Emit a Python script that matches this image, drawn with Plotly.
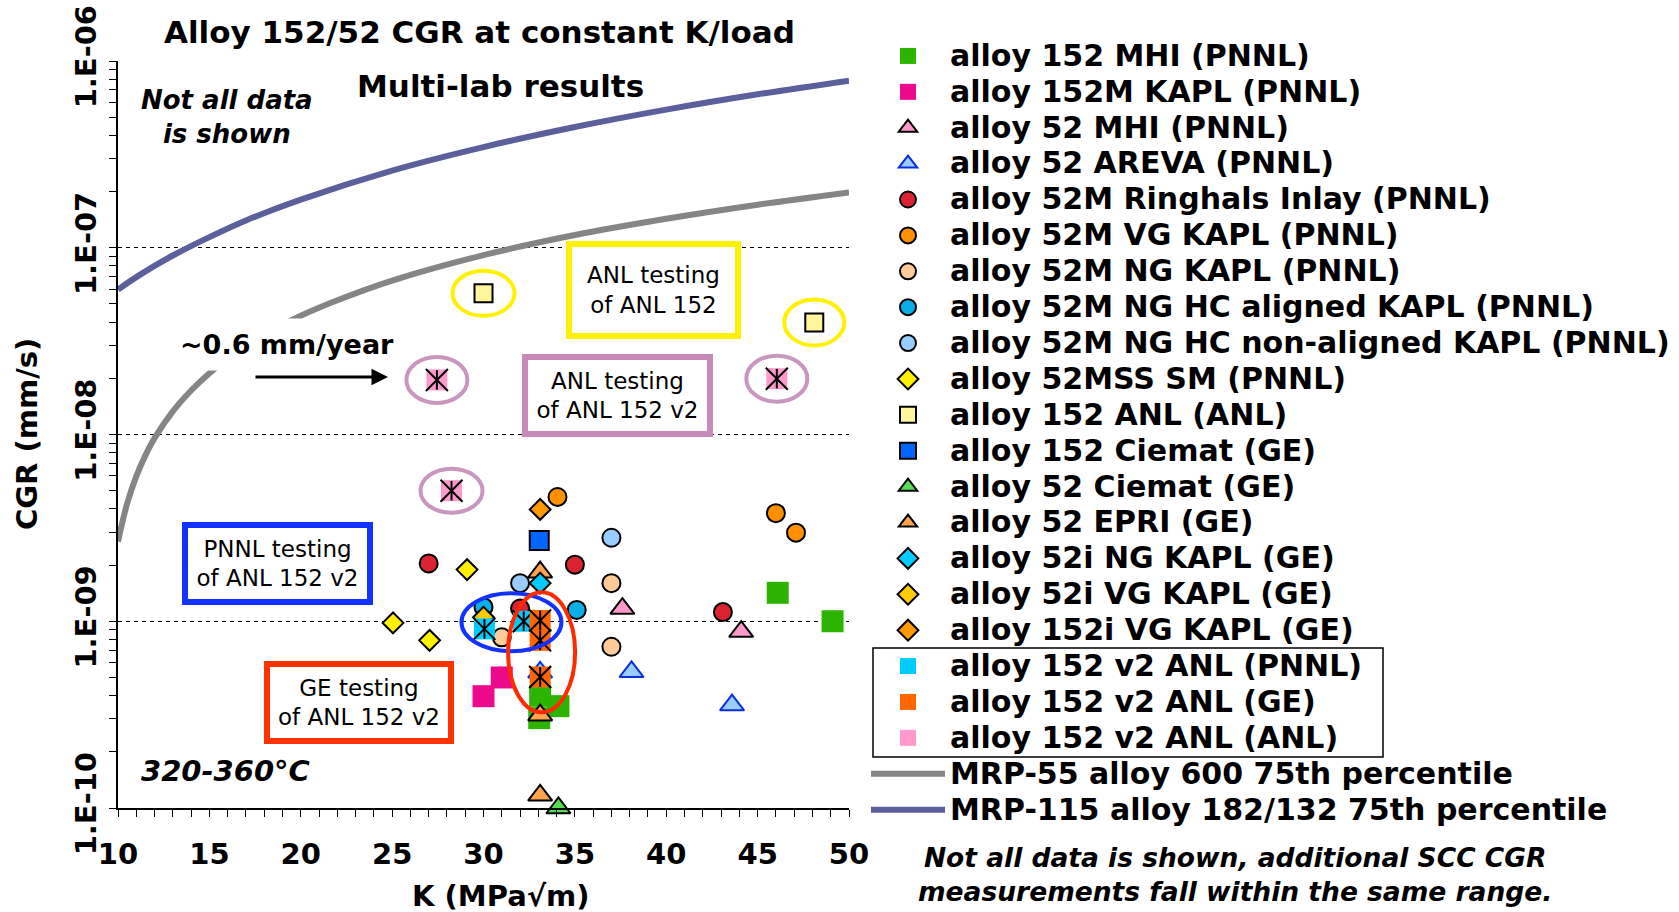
import plotly.graph_objects as go

FONT = "DejaVu Sans"

# --------------------------------------------------
# Data: K (MPa*sqrt(m)), CGR (mm/s)
# --------------------------------------------------
a152_mhi_k = [46.1, 49.1, 33.1, 34.1, 33.05]
a152_mhi_cgr = [1.42e-9, 1.0e-9, 3.99e-10, 3.51e-10, 3.03e-10]

a152m_kapl_k = [30.0, 31.0]
a152m_kapl_cgr = [3.97e-10, 5.0e-10]

a52_mhi_k = [37.6, 44.1]
a52_mhi_cgr = [1.17e-9, 8.8e-10]

a52_areva_k = [38.1, 43.6, 33.1]
a52_areva_cgr = [5.36e-10, 3.56e-10, 5.33e-10]

a52m_ringhals_k = [27.0, 35.0, 32.0, 43.1]
a52m_ringhals_cgr = [2.04e-9, 2.01e-9, 1.17e-9, 1.12e-9]

a52m_vg_k = [34.05, 46.0, 47.1]
a52m_vg_cgr = [4.63e-9, 3.79e-9, 2.98e-9]

a52m_ng_k = [37.0, 31.0, 37.0]
a52m_ng_cgr = [1.6e-9, 8.2e-10, 7.3e-10]

a52m_hc_al_k = [30.0, 35.1]
a52m_hc_al_cgr = [1.19e-9, 1.15e-9]

a52m_hc_nonal_k = [37.0, 32.0]
a52m_hc_nonal_cgr = [2.8e-9, 1.6e-9]

a52mss_k = [29.1, 25.05, 27.05]
a52mss_cgr = [1.89e-9, 9.8e-10, 7.9e-10]

a152_anl_k = [30.0, 48.1]
a152_anl_cgr = [5.7e-8, 3.98e-8]

a152_ciemat_k = [33.05]
a152_ciemat_cgr = [2.71e-9]

a52_ciemat_k = [34.1]
a52_ciemat_cgr = [1.0e-10]

a52_epri_k = [33.1, 33.1, 33.1]
a52_epri_cgr = [1.83e-9, 3.14e-10, 1.17e-10]

a52i_ng_k = [33.1]
a52i_ng_cgr = [1.6e-9]

a52i_vg_k = [30.0]
a52i_vg_cgr = [1.05e-9]

a152i_vg_k = [33.1]
a152i_vg_cgr = [3.97e-9]

v2_pnnl_k = [30.05, 32.2]
v2_pnnl_cgr = [9.1e-10, 1.0e-9]

v2_ge_k = [33.1, 33.1, 33.1]
v2_ge_cgr = [1.01e-9, 7.9e-10, 5.03e-10]

v2_anl_k = [27.45, 46.05, 28.25]
v2_anl_cgr = [1.96e-8, 1.99e-8, 5.0e-9]

# disposition curves (75th percentile)
mrp55_k = [10, 10.5, 11, 11.5, 12, 13, 14, 15, 16, 18, 20, 22, 25, 30, 35, 40, 45, 50]
mrp55_cgr = [2.67e-9, 4.27e-9, 5.97e-9, 7.73e-9, 9.56e-9, 1.33e-8, 1.72e-8, 2.13e-8,
             2.55e-8, 3.42e-8, 4.32e-8, 5.23e-8, 6.67e-8, 9.13e-8, 1.17e-7, 1.43e-7,
             1.70e-7, 1.98e-7]

mrp115_k = [10, 11, 12, 13, 15, 17, 20, 25, 30, 35, 40, 45, 50]
mrp115_cgr = [5.97e-8, 6.96e-8, 8.0e-8, 9.09e-8, 1.14e-7, 1.40e-7, 1.81e-7, 2.59e-7,
              3.46e-7, 4.43e-7, 5.49e-7, 6.63e-7, 7.85e-7]

# axis labels
cgr_ticks = [1e-10, 1e-9, 1e-8, 1e-7, 1e-6]
cgr_text = ["1.E-10", "1.E-09", "1.E-08", "1.E-07", "1.E-06"]

# --------------------------------------------------
# Styles
# --------------------------------------------------
series = [
    # name, k, cgr, symbol, size, fill, outline
    ("alloy 152 MHI (PNNL)", a152_mhi_k, a152_mhi_cgr, "square", 22, "#2DB400", None),
    ("alloy 152M KAPL (PNNL)", a152m_kapl_k, a152m_kapl_cgr, "square", 22, "#EC0A8A", None),
    ("alloy 52 MHI (PNNL)", a52_mhi_k, a52_mhi_cgr, "triangle-up", 21, "#FF99CC", "black"),
    ("alloy 52 AREVA (PNNL)", a52_areva_k, a52_areva_cgr, "triangle-up", 21, "#99CCFF", "#0A2FE0"),
    ("alloy 52M Ringhals Inlay (PNNL)", a52m_ringhals_k, a52m_ringhals_cgr, "circle", 18, "#DC2332", "black"),
    ("alloy 52M VG KAPL (PNNL)", a52m_vg_k, a52m_vg_cgr, "circle", 18, "#FF9100", "black"),
    ("alloy 52M NG KAPL (PNNL)", a52m_ng_k, a52m_ng_cgr, "circle", 18, "#FFCC99", "black"),
    ("alloy 52M NG HC aligned KAPL (PNNL)", a52m_hc_al_k, a52m_hc_al_cgr, "circle", 18, "#0AAFE6", "black"),
    ("alloy 52M NG HC non-aligned KAPL (PNNL)", a52m_hc_nonal_k, a52m_hc_nonal_cgr, "circle", 18, "#99CCFF", "black"),
    ("alloy 52MSS SM (PNNL)", a52mss_k, a52mss_cgr, "diamond", 16, "#FFF200", "black"),
    ("alloy 152 ANL (ANL)", a152_anl_k, a152_anl_cgr, "square", 18, "#FFF59A", "black"),
    ("alloy 152 Ciemat (GE)", a152_ciemat_k, a152_ciemat_cgr, "square", 19, "#0066FF", "black"),
    ("alloy 52 Ciemat (GE)", a52_ciemat_k, a52_ciemat_cgr, "triangle-up", 21, "#55DD55", "black"),
    ("alloy 52 EPRI (GE)", a52_epri_k, a52_epri_cgr, "triangle-up", 21, "#FFA54F", "black"),
    ("alloy 52i NG KAPL (GE)", a52i_ng_k, a52i_ng_cgr, "diamond", 16, "#00CCFF", "black"),
    ("alloy 52i VG KAPL (GE)", a52i_vg_k, a52i_vg_cgr, "diamond", 16, "#FFCC00", "black"),
    ("alloy 152i VG KAPL (GE)", a152i_vg_k, a152i_vg_cgr, "diamond", 16, "#FF9900", "black"),
]

star_series = [
    ("alloy 152 v2 ANL (PNNL)", v2_pnnl_k, v2_pnnl_cgr, "#00CCFF"),
    ("alloy 152 v2 ANL (GE)", v2_ge_k, v2_ge_cgr, "#FF6600"),
    ("alloy 152 v2 ANL (ANL)", v2_anl_k, v2_anl_cgr, "#FF99CC"),
]


def leg(name):
    # bigger glyphs than the legend row height alone would allow
    return "<span style='font-size:30px'>" + name + "</span>"


fig = go.Figure()

# curves first so the markers sit on top of them
fig.add_trace(go.Scatter(
    x=mrp55_k, y=mrp55_cgr, mode="lines",
    line=dict(color="#858585", width=6, shape="spline"),
    name=leg("MRP-55 alloy 600 75th percentile"), legendrank=2000
))
fig.add_trace(go.Scatter(
    x=mrp115_k, y=mrp115_cgr, mode="lines",
    line=dict(color="#5B5F9C", width=6, shape="spline"),
    name=leg("MRP-115 alloy 182/132 75th percentile"), legendrank=2001
))

for name, k, cgr, sym, size, fill, edge in series:
    fig.add_trace(go.Scatter(
        x=k, y=cgr, mode="markers", name=leg(name), cliponaxis=False,
        marker=dict(symbol=sym, size=size, color=fill,
                    line=dict(color=edge if edge else fill, width=2 if edge else 0))
    ))

# Excel-style star: coloured square with a black vertical bar and an X
for name, k, cgr, fill in star_series:
    fig.add_trace(go.Scatter(
        x=k, y=cgr, mode="markers", name=leg(name), legendgroup=name,
        marker=dict(symbol="square", size=21, color=fill, line=dict(width=0))
    ))
    for sym, size in (("x-thin-open", 22), ("line-ns-open", 14)):
        fig.add_trace(go.Scatter(
            x=k, y=cgr, mode="markers", legendgroup=name, showlegend=False,
            hoverinfo="skip",
            marker=dict(symbol=sym, size=size, color="black",
                        line=dict(color="black", width=2))
        ))

# --------------------------------------------------
# Layout helpers (page pixels -> paper)
# --------------------------------------------------
W, H = 1679, 912
L, R, T, B = 118, 830, 61, 104
PW, PH = W - L - R, H - T - B
PX_PER_K = PW / 40.0
PX_PER_DEC = PH / 4.0


def pxx(x):
    return (x - L) / PW


def pxy(y):
    return (H - B - y) / PH


bold = dict(family=FONT, color="black", weight="bold")
tick_minor_log = [m * 10.0 ** e for e in range(-10, -6) for m in range(2, 10)]

ann = []


def text(x, y, s, size, italic=False, **kw):
    f = dict(bold, size=size)
    if italic:
        f["style"] = "italic"
    ann.append(dict(xref="paper", yref="paper", x=pxx(x), y=pxy(y), text=s,
                    showarrow=False, font=f, xanchor="center", yanchor="middle", **kw))


text(479, 32, "Alloy 152/52 CGR at constant K/load", 31)
text(500, 86, "Multi-lab results", 31)
text(227, 117, "Not all data<br>is shown", 26, italic=True)
text(225, 771, "320-360°C", 29, italic=True)
text(287, 344, "~0.6 mm/year", 27, bgcolor="white", borderpad=10)
text(501, 896, "K (MPa√m)", 29)
text(27, 434, "CGR (mm/s)", 29, textangle=-90)
text(1235, 874, "Not all data is shown, additional SCC CGR<br>measurements fall within the same range.",
     26.5, italic=True)

# arrow pointing at the ANL v2 result
ann.append(dict(xref="paper", yref="paper", x=pxx(388), y=pxy(377), ax=-134, ay=0,
                showarrow=True, arrowhead=2, arrowsize=1.1, arrowwidth=3,
                arrowcolor="black", text=""))

# framed call-out boxes
boxes = [
    (653, 290, "ANL testing<br>of ANL 152", "#FFF200", 153, 76),
    (617, 395, "ANL testing<br>of ANL 152 v2", "#C88AB8", 169, 61),
    (277, 563, "PNNL testing<br>of ANL 152 v2", "#1432FF", 169, 61),
    (359, 702, "GE testing<br>of ANL 152 v2", "#FF3300", 168, 61),
]
for x, y, s, col, w, h in boxes:
    ann.append(dict(xref="paper", yref="paper", x=pxx(x), y=pxy(y), text=s,
                    showarrow=False, xanchor="center", yanchor="middle",
                    font=dict(family=FONT, size=23, color="black"),
                    bgcolor="white", bordercolor=col, borderwidth=6, borderpad=5,
                    width=w, height=h))

shapes = []
# ellipses around selected points: centre (K, CGR), size in page pixels
rings = [
    (a152_anl_k[0], a152_anl_cgr[0], 62, 45, "#FFF200"),
    (a152_anl_k[1], a152_anl_cgr[1], 60, 46, "#FFF200"),
    (v2_anl_k[0], v2_anl_cgr[0], 61, 46, "#C896BE"),
    (v2_anl_k[1], v2_anl_cgr[1], 61, 46, "#C896BE"),
    (v2_anl_k[2], v2_anl_cgr[2], 62, 44, "#C896BE"),
    (31.53, 9.88e-10, 100, 58, "#1432FF"),
    (33.18, 6.82e-10, 67, 120, "#FF2A00"),
]
for k, c, w, h, col in rings:
    dk = w / 2.0 / PX_PER_K
    f = 10 ** (h / 2.0 / PX_PER_DEC)
    shapes.append(dict(type="circle", xref="x", yref="y",
                       x0=k - dk, x1=k + dk, y0=c / f, y1=c * f,
                       line=dict(color=col, width=4)))

# frame around the three v2 legend entries
shapes.append(dict(type="rect", xref="paper", yref="paper",
                   x0=pxx(873), x1=pxx(1383), y0=pxy(757), y1=pxy(648),
                   line=dict(color="black", width=1.5)))

fig.update_layout(
    width=W, height=H,
    margin=dict(l=L, r=R, t=T, b=B, autoexpand=False),
    paper_bgcolor="white", plot_bgcolor="white",
    showlegend=True,
    legend=dict(xref="container", yref="container",
                x=866 / W, y=1 - 33 / H, xanchor="left", yanchor="top",
                font=dict(family=FONT, size=25.3, color="black", weight="bold"),
                itemwidth=74, maxheight=890,
                bgcolor="rgba(0,0,0,0)", traceorder="normal"),
    xaxis=dict(range=[10, 50], tickmode="linear", tick0=10, dtick=5,
               ticks="outside", ticklen=7, tickcolor="black",
               minor=dict(dtick=1, ticks="outside", ticklen=7, tickcolor="black"),
               showline=True, linecolor="black", linewidth=2,
               showgrid=False, zeroline=False, automargin=False,
               tickfont=dict(bold, size=29), ticklabelstandoff=12),
    xaxis2=dict(range=[10, 50], overlaying="x", anchor="y", side="bottom",
                tickmode="linear", tick0=10, dtick=5,
                ticks="inside", ticklen=7, tickcolor="black",
                minor=dict(dtick=1, ticks="inside", ticklen=7, tickcolor="black"),
                showticklabels=False, showline=False, showgrid=False, zeroline=False),
    xaxis3=dict(range=[10, 50], overlaying="x", anchor="y", side="top",
                showline=True, linecolor="#8C8C8C", linewidth=2, ticks="",
                showticklabels=False, showgrid=False, zeroline=False),
    yaxis=dict(type="log", range=[-10, -6], tickmode="array",
               tickvals=cgr_ticks, ticktext=cgr_text, tickangle=-90,
               ticks="outside", ticklen=7, tickcolor="black",
               minor=dict(tickmode="array", tickvals=tick_minor_log,
                          ticks="outside", ticklen=7, tickcolor="black"),
               showline=True, linecolor="black", linewidth=2,
               showgrid=True, gridcolor="black", griddash="4px,4px", gridwidth=1,
               zeroline=False, automargin=False,
               tickfont=dict(bold, size=29), ticklabelstandoff=1),
    yaxis2=dict(type="log", range=[-10, -6], overlaying="y", anchor="x", side="left",
                tickmode="array", tickvals=cgr_ticks,
                ticks="inside", ticklen=7, tickcolor="black",
                minor=dict(tickmode="array", tickvals=tick_minor_log,
                           ticks="inside", ticklen=7, tickcolor="black"),
                showticklabels=False, showline=False, showgrid=False, zeroline=False),
    yaxis3=dict(type="log", range=[-10, -6], overlaying="y", anchor="x", side="right",
                showline=True, linecolor="#8C8C8C", linewidth=2, ticks="",
                showticklabels=False, showgrid=False, zeroline=False),
    annotations=ann,
    shapes=shapes,
)

# the page's default body margin would push the figure 8px right and down
fig.write_html("out.html",
               config={"displayModeBar": False},
               post_script="document.body.style.margin='0';document.body.style.overflow='hidden';")
